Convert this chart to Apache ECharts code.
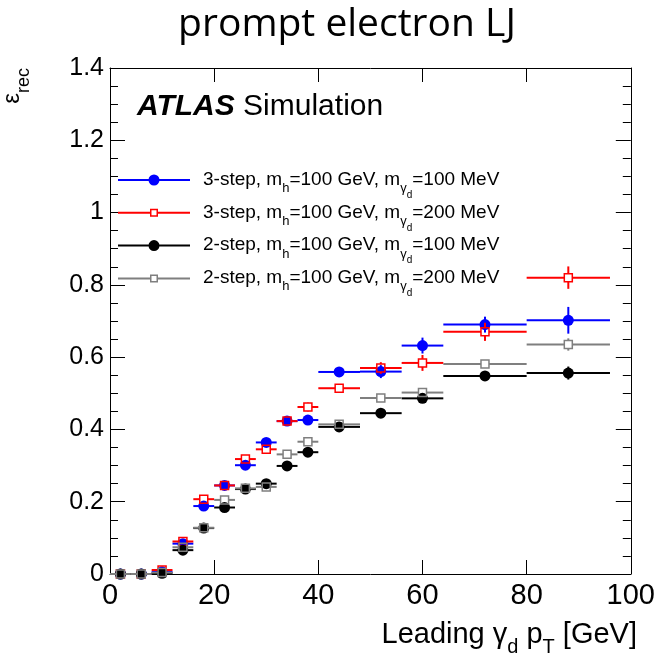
<!DOCTYPE html>
<html>
<head>
<meta charset="utf-8">
<script src="https://cdn.jsdelivr.net/npm/echarts@6/dist/echarts.min.js"></script>
<style>
  html, body { margin: 0; padding: 0; background: #fff; }
  #chart { width: 658px; height: 655px; }
</style>
</head>
<body>
<div id="chart"></div>
<script>
// Leading dark-photon pT bins (GeV): centre and half width
const binCenters    = [2, 6, 10, 14, 18, 22, 26, 30, 34, 38, 44, 52, 60, 72, 88];
const binHalfWidths = [2, 2, 2, 2, 2, 2, 2, 2, 2, 2, 4, 4, 4, 8, 8];

// Reconstruction efficiency of prompt electron lepton-jets, per sample
const eff3step100 = [0, 0, 0.006, 0.084, 0.188, 0.245, 0.301, 0.364, 0.423, 0.426, 0.559, 0.560, 0.632, 0.690, 0.702];
const err3step100 = [0, 0, 0.003, 0.006, 0.008, 0.009, 0.010, 0.010, 0.011, 0.011, 0.008, 0.018, 0.022, 0.022, 0.037];
const eff3step200 = [0, 0, 0.011, 0.090, 0.207, 0.245, 0.318, 0.345, 0.423, 0.462, 0.514, 0.570, 0.584, 0.670, 0.820];
const err3step200 = [0, 0, 0.004, 0.007, 0.008, 0.009, 0.010, 0.010, 0.012, 0.012, 0.010, 0.016, 0.022, 0.025, 0.031];
const eff2step100 = [0, 0, 0.002, 0.066, 0.127, 0.184, 0.235, 0.250, 0.299, 0.337, 0.407, 0.445, 0.486, 0.548, 0.556];
const err2step100 = [0, 0, 0.002, 0.005, 0.006, 0.007, 0.007, 0.007, 0.008, 0.008, 0.006, 0.006, 0.008, 0.010, 0.018];
const eff2step200 = [0, 0, 0.004, 0.074, 0.128, 0.205, 0.237, 0.241, 0.331, 0.366, 0.414, 0.487, 0.502, 0.581, 0.635];
const err2step200 = [0, 0, 0.003, 0.005, 0.006, 0.007, 0.007, 0.008, 0.008, 0.008, 0.006, 0.007, 0.008, 0.010, 0.017];

// Sample descriptions
const sampleSteps = ['3-step', '3-step', '2-step', '2-step'];
const higgsMass = 100;                         // GeV
const darkPhotonMasses = [100, 200, 100, 200]; // MeV

// Axis tick labels
const xTickLabels = ['0', '20', '40', '60', '80', '100'];
const yTickLabels = ['0', '0.2', '0.4', '0.6', '0.8', '1', '1.2', '1.4'];

const effs = [eff3step100, eff3step200, eff2step100, eff2step200];
const errs = [err3step100, err3step200, err2step100, err2step200];

// Marker look per sample (filled circles / open squares)
const markerStyles = [
  { color: '#0000ff', symbol: 'circle' },
  { color: '#ff0000', symbol: 'square' },
  { color: '#000000', symbol: 'circle' },
  { color: '#7f7f7f', symbol: 'square' }
];

const FONT = 'Liberation Sans, Helvetica, Arial, sans-serif';
const CIRCLE_R = 5.5;
const SQUARE_HALF = 4;
const BAR_WIDTH = 2;

const seriesNames = sampleSteps.map((s, i) =>
  s + ', m_h=' + higgsMass + ' GeV, m_γd=' + darkPhotonMasses[i] + ' MeV');
const richNames = {};
seriesNames.forEach((n, i) => {
  richNames[n] = '{gap|}{t|' + sampleSteps[i] + ', m}{sh|h}{t|=' + higgsMass +
    ' GeV, m}{sg|γ}{sd|d}{t|=' + darkPhotonMasses[i] + ' MeV}';
});

// Legend icons: horizontal bar with the marker in its middle
const legendIcons = {
  circle: 'path://M36,0M36,11M0,4.5H72V6.5H0Z' +
          'M30.5,5.5A5.5,5.5,0,1,1,41.5,5.5A5.5,5.5,0,1,1,30.5,5.5Z',
  square: 'path://M36,0M36,11M0,4.5H32V6.5H0ZM40,4.5H72V6.5H40Z' +
          'M32,1.5H40V9.5H32ZM33.5,3V8H38.5V3Z'
};

// Error bars (x = bin width, y = stat. error) with the marker on top
function makeRenderer(style) {
  return function (params, api) {
    const x = api.value(0), y = api.value(1), hw = api.value(2), err = api.value(3);
    const p = api.coord([x, y]);
    const xl = api.coord([x - hw, y])[0];
    const xr = api.coord([x + hw, y])[0];
    const yt = api.coord([x, y + err])[1];
    const yb = api.coord([x, y - err])[1];
    const gap = style.symbol === 'square' ? SQUARE_HALF : 0;
    const lineStyle = { stroke: style.color, lineWidth: BAR_WIDTH };
    const kids = [];
    const seg = (x1, y1, x2, y2) =>
      kids.push({ type: 'line', shape: { x1, y1, x2, y2 }, style: lineStyle });
    if (p[0] - gap > xl) seg(xl, p[1], p[0] - gap, p[1]);
    if (xr > p[0] + gap) seg(p[0] + gap, p[1], xr, p[1]);
    if (yt < p[1] - gap) seg(p[0], yt, p[0], p[1] - gap);
    if (yb > p[1] + gap) seg(p[0], p[1] + gap, p[0], yb);
    if (style.symbol === 'circle') {
      kids.push({ type: 'circle', shape: { cx: p[0], cy: p[1], r: CIRCLE_R },
                  style: { fill: style.color } });
    } else {
      kids.push({ type: 'rect',
                  shape: { x: p[0] - SQUARE_HALF, y: p[1] - SQUARE_HALF,
                           width: 2 * SQUARE_HALF, height: 2 * SQUARE_HALF },
                  style: { fill: 'none', stroke: style.color, lineWidth: 1.5 } });
    }
    return { type: 'group', children: kids };
  };
}

const series = seriesNames.map((name, i) => ({
  name: name,
  type: 'custom',
  xAxisIndex: 0,
  yAxisIndex: 0,
  itemStyle: { color: markerStyles[i].color },
  encode: { x: 0, y: 1 },
  data: binCenters.map((c, k) => [c, effs[i][k], binHalfWidths[k], errs[i][k]]),
  renderItem: makeRenderer(markerStyles[i]),
  z: 10 + i
}));

const tickLine = { color: '#000', width: 1 };
const xAxisCommon = {
  type: 'value', min: 0, max: 100, interval: 20,
  axisLine: { show: true, onZero: false, lineStyle: { color: '#000', width: 1 } },
  axisTick: { show: true, inside: true, length: 14, lineStyle: tickLine },
  splitLine: { show: false }
};
const yAxisCommon = {
  type: 'value', min: 0, max: 1.4, interval: 0.2,
  axisLine: { show: true, onZero: false, lineStyle: { color: '#000', width: 1 } },
  axisTick: { show: true, inside: true, length: 15, lineStyle: tickLine },
  minorTick: { show: true, splitNumber: 4, length: 8, lineStyle: tickLine },
  splitLine: { show: false }
};

const chart = echarts.init(document.getElementById('chart'), null, { renderer: 'canvas' });
chart.setOption({
  animation: false,
  backgroundColor: '#fff',
  title: {
    text: 'prompt electron LJ',
    left: 342, top: 0, textAlign: 'center',
    textStyle: { fontFamily: 'Open Sans', fontSize: 39, fontWeight: 'normal', color: '#000' }
  },
  grid: { left: 110, right: 21, top: 68, bottom: 81 },
  xAxis: [
    Object.assign({}, xAxisCommon, {
      position: 'bottom',
      axisLabel: { show: true, margin: 7, fontFamily: FONT, fontSize: 29, color: '#000',
                   formatter: v => xTickLabels[Math.round(v / 20)] }
    }),
    Object.assign({}, xAxisCommon, { position: 'top', axisLabel: { show: false } })
  ],
  yAxis: [
    Object.assign({}, yAxisCommon, {
      position: 'left',
      axisLabel: { show: true, margin: 6, fontFamily: FONT, fontSize: 25, color: '#000',
                   formatter: v => yTickLabels[Math.round(v / 0.2)] }
    }),
    Object.assign({}, yAxisCommon, { position: 'right', axisLabel: { show: false } })
  ],
  legend: {
    orient: 'vertical', left: 113, top: 165,
    itemWidth: 72, itemHeight: 11, itemGap: 2.8,
    symbolKeepAspect: true,
    selectedMode: false,
    data: seriesNames.map((n, i) => ({
      name: n, icon: legendIcons[markerStyles[i].symbol],
      itemStyle: { color: markerStyles[i].color, borderWidth: 0 }
    })),
    formatter: n => richNames[n],
    textStyle: {
      fontFamily: FONT, fontSize: 19, color: '#000',
      rich: {
        gap: { width: 8 },
        t:  { fontFamily: FONT, fontSize: 19, lineHeight: 20, verticalAlign: 'top', color: '#000' },
        sh: { fontFamily: FONT, fontSize: 13, lineHeight: 13, padding: [12, 0, 0, 0], verticalAlign: 'top', color: '#000' },
        sg: { fontFamily: FONT, fontSize: 13, lineHeight: 13, padding: [12, 0, 0, 0], verticalAlign: 'top', color: '#000' },
        sd: { fontFamily: FONT, fontSize: 10, lineHeight: 10, padding: [20, 0, 0, 0], verticalAlign: 'top', color: '#000' }
      }
    }
  },
  graphic: [
    {
      type: 'text', x: 137, y: 107, z: 20,
      style: {
        text: '{b|ATLAS}{n| Simulation}', fill: '#000',
        verticalAlign: 'middle', align: 'left',
        rich: {
          b: { fontFamily: FONT, fontSize: 30, fontWeight: 'bold', fontStyle: 'italic', fill: '#000' },
          n: { fontFamily: FONT, fontSize: 30, fill: '#000' }
        }
      }
    },
    {
      // x-axis title
      type: 'text', x: 637, y: 620, z: 20,
      style: {
        text: '{t|Leading γ}{s|d}{t| p}{s|T}{t| [GeV]}', fill: '#000',
        align: 'right', verticalAlign: 'top',
        rich: {
          t: { fontFamily: FONT, fontSize: 29, lineHeight: 29, verticalAlign: 'top', fill: '#000' },
          s: { fontFamily: FONT, fontSize: 20, lineHeight: 20, padding: [17, 0, 0, 0], verticalAlign: 'top', fill: '#000' }
        }
      }
    },
    {
      // y-axis title, reading upwards
      type: 'text', x: 0, y: 68, rotation: Math.PI / 2, z: 20,
      style: {
        text: '{e|ε}{s|rec}', fill: '#000',
        align: 'right', verticalAlign: 'top',
        rich: {
          e: { fontFamily: FONT, fontSize: 24, lineHeight: 24, verticalAlign: 'top', fill: '#000' },
          s: { fontFamily: FONT, fontSize: 18, lineHeight: 18, padding: [15, 0, 0, 0], verticalAlign: 'top', fill: '#000' }
        }
      }
    }
  ],
  series: series
});
</script>
</body>
</html>
